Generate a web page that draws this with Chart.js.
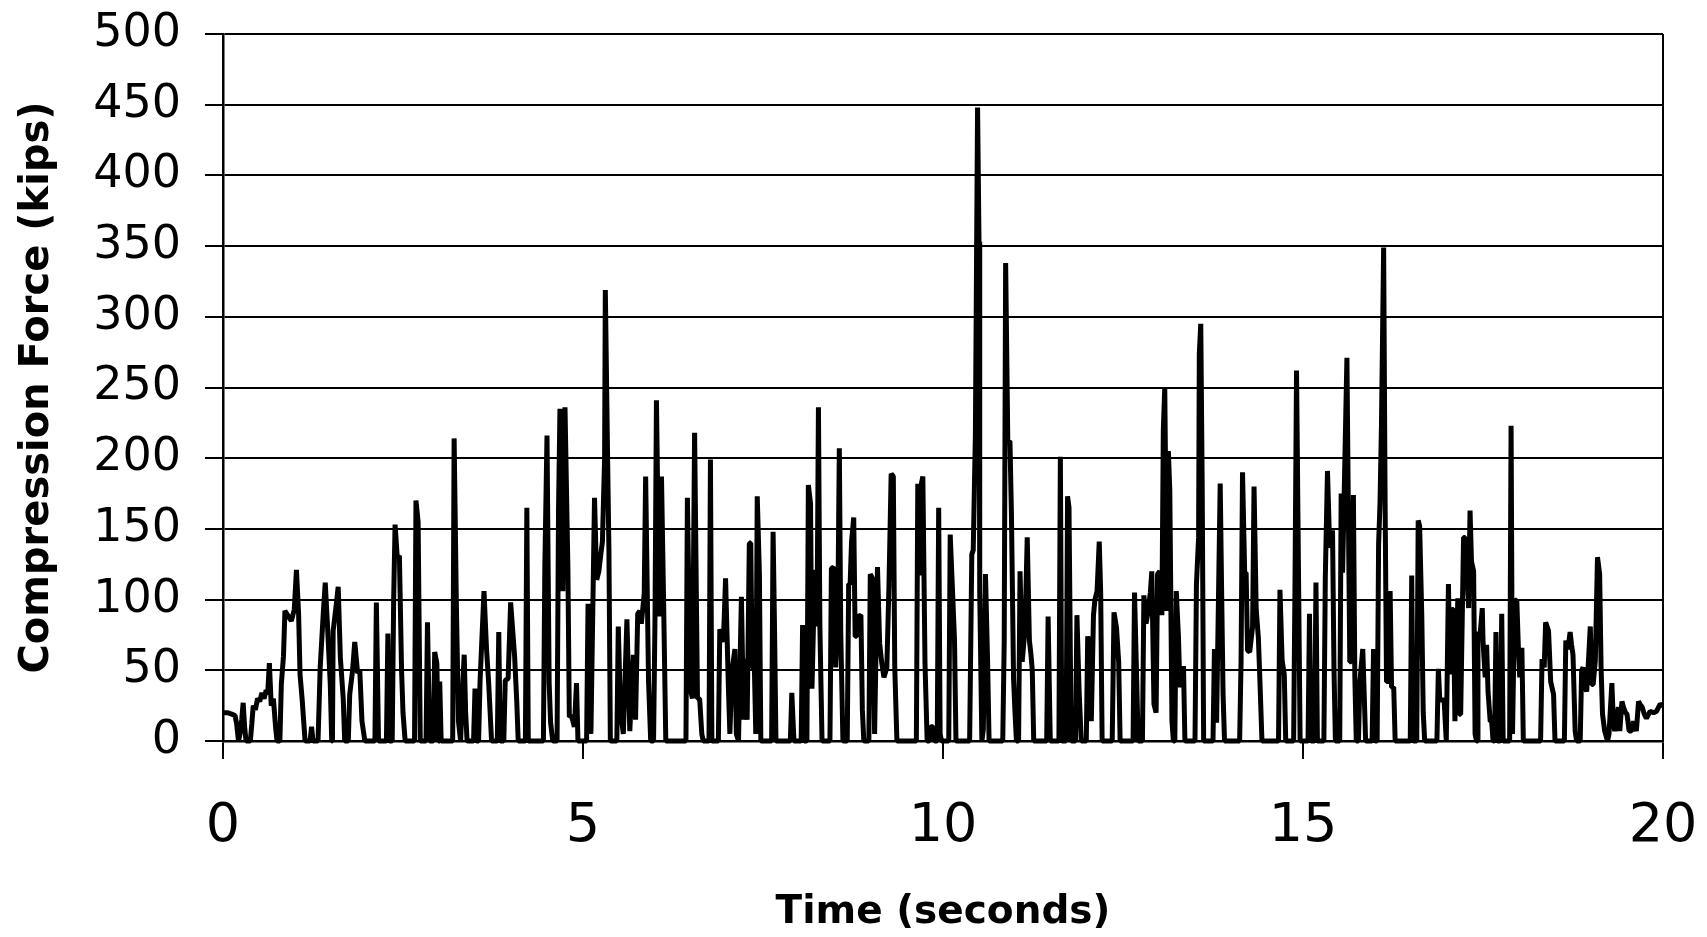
<!DOCTYPE html>
<html>
<head>
<meta charset="utf-8">
<script src="https://cdn.jsdelivr.net/npm/chart.js@4.4.1/dist/chart.umd.min.js"></script>
<style>
html,body{margin:0;padding:0;background:#fff;}
#wrap{width:1707px;height:937px;}
</style>
</head>
<body>
<div id="wrap"><canvas id="c" width="1707" height="937"></canvas></div>
<script>
// Readings [time (s), compression force (kips)]
const sec0to5 = [
[0,20],[0.06,20],[0.12,19],[0.167,18],[0.19,12],[0.215,0],[0.236,5],[0.26,15],[0.28,27],[0.30,10],[0.32,0],[0.38,0],[0.40,12],[0.42,25],[0.45,22],[0.48,30],[0.51,28],[0.54,34],[0.57,30],[0.60,36],[0.62,33],[0.644,55],[0.67,25],[0.70,30],[0.73,10],[0.75,0],[0.79,0],[0.81,40],[0.84,60],[0.86,92],[0.91,88],[0.95,85],[0.99,93],[1.02,121],[1.05,90],[1.07,47],[1.10,29],[1.14,0],[1.21,0],[1.23,10],[1.25,0],[1.32,0],[1.35,52],[1.39,88],[1.42,112],[1.45,83],[1.49,40],[1.51,0],[1.52,0],[1.53,78],[1.57,95],[1.60,109],[1.63,59],[1.67,30],[1.69,0],[1.74,0],[1.76,33],[1.80,50],[1.83,70],[1.87,48],[1.90,50],[1.93,14],[1.97,0],[2.11,0],[2.13,98],[2.16,0],[2.27,0],[2.29,76],[2.31,0],[2.35,0],[2.37,99],[2.39,153],[2.42,130],[2.45,131],[2.48,50],[2.50,20],[2.53,0],[2.66,0],[2.68,170],[2.71,155],[2.74,0],[2.82,0],[2.84,84],[2.87,0],[2.92,0],[2.94,63],[2.97,55],[2.99,0],[3.00,0],[3.01,42],[3.03,0],[3.19,0],[3.21,214],[3.24,101],[3.27,14],[3.30,0],[3.33,40],[3.35,61],[3.37,20],[3.39,0],
[3.48,0],[3.50,37],[3.52,0],[3.55,0],[3.57,42],[3.625,106],[3.66,65],[3.69,41],[3.73,0],[3.81,0],[3.83,77],[3.85,0],[3.90,0],[3.92,43],[3.96,44],[3.995,98],[4.05,60],[4.08,28],[4.10,0],[4.20,0],[4.22,165],[4.24,0],[4.45,0],[4.47,123],[4.50,216],[4.53,41],[4.55,13],[4.58,0],[4.64,0],[4.66,163],[4.68,235],[4.72,106],[4.75,236],[4.79,123],[4.81,17],[4.84,18],[4.88,10],[4.91,41],[4.93,0]
];
const sec5to10 = [
[5.05,0],[5.07,97],[5.11,5],[5.16,172],[5.19,114],[5.22,120],[5.25,133],[5.27,141],[5.30,200],[5.31,319],[5.34,206],[5.36,135],[5.38,0],
[5.47,0],[5.49,81],[5.52,22],[5.56,5],[5.61,86],[5.65,7],[5.70,61],[5.73,15],[5.76,90],[5.79,92],[5.81,83],[5.85,104],[5.87,187],[5.91,43],[5.94,0],
[5.98,0],[6.00,88],[6.02,241],[6.06,88],[6.09,187],[6.12,97],[6.15,0],
[6.43,0],[6.45,172],[6.49,37],[6.52,30],[6.55,218],[6.59,30],[6.62,30],[6.65,5],[6.67,0],
[6.75,0],[6.77,199],[6.79,0],
[6.88,0],[6.90,79],[6.95,70],[6.98,115],[7.02,37],[7.04,5],[7.07,50],[7.11,65],[7.13,5],[7.16,0],[7.20,102],[7.23,15],[7.25,58],[7.28,15],[7.31,140],[7.33,140],[7.35,52],[7.38,52],[7.40,5],[7.42,173],[7.45,118],[7.47,0],
[7.62,0],[7.64,148],[7.66,80],[7.68,0],[7.88,0],[7.90,34],[7.93,0],
[8.03,0],[8.05,82],[8.07,0],[8.11,0],[8.13,181],[8.16,168],[8.18,37],[8.22,121],[8.25,81],[8.27,236],[8.29,81],[8.32,0],
[8.43,0],[8.45,122],[8.48,123],[8.51,52],[8.54,95],[8.56,207],[8.58,76],[8.61,0],
[8.67,0],[8.69,111],[8.71,111],[8.73,141],[8.76,158],[8.78,74],[8.80,74],[8.82,88],[8.86,89],[8.88,22],[8.90,0],
[8.97,0],[8.99,118],[9.02,115],[9.05,5],[9.09,123],[9.12,69],[9.15,55],[9.18,45],[9.22,52],[9.25,111],[9.28,189],[9.31,187],[9.33,52],[9.36,0],
[9.63,0],[9.65,182],[9.68,117],[9.70,182],[9.72,187],[9.75,55],[9.78,0],
[9.81,0],[9.83,10],[9.86,10],[9.88,0],[9.92,0],[9.94,165],[9.96,5],[9.98,0]
];
const sec10to15 = [
[10.08,0],[10.10,146],[10.13,109],[10.16,71],[10.18,0],
[10.37,0],[10.40,132],[10.42,135],[10.45,217],[10.48,448],[10.50,353],[10.51,105],[10.54,0],[10.56,8],[10.59,118],[10.62,55],[10.64,0],
[10.83,0],[10.85,70],[10.87,338],[10.90,212],[10.93,212],[10.95,162],[10.98,44],[11.00,20],[11.02,0],
[11.05,0],[11.07,120],[11.10,56],[11.14,80],[11.17,144],[11.20,71],[11.22,62],[11.24,50],[11.26,0],
[11.44,0],[11.46,88],[11.49,0],[11.61,0],[11.63,201],[11.65,0],[11.71,0],[11.73,173],[11.75,165],[11.78,0],
[11.84,0],[11.86,89],[11.89,36],[11.92,0],
[11.99,0],[12.01,74],[12.04,65],[12.06,14],[12.09,89],[12.11,100],[12.14,106],[12.17,141],[12.19,105],[12.21,0],
[12.35,0],[12.375,91],[12.41,80],[12.44,56],[12.46,0],[12.64,0],[12.66,105],[12.69,44],[12.71,0],
[12.77,0],[12.79,103],[12.82,83],[12.84,89],[12.88,105],[12.90,120],[12.93,26],[12.96,20],[12.98,118],[13.01,120],[13.04,89],[13.06,220],[13.08,250],[13.11,92],[13.13,205],[13.15,177],[13.18,14],[13.20,0],
[13.22,0],[13.24,106],[13.27,74],[13.29,38],[13.32,45],[13.34,53],[13.36,0],
[13.50,0],[13.52,111],[13.55,144],[13.56,274],[13.58,295],[13.60,180],[13.62,0],
[13.75,0],[13.77,65],[13.80,13],[13.85,182],[13.87,105],[13.89,33],[13.91,0],
[14.12,0],[14.14,57],[14.16,190],[14.19,119],[14.21,119],[14.23,64],[14.26,63],[14.30,81],[14.32,180],[14.35,93],[14.38,73],[14.40,45],[14.43,0],
[14.66,0],[14.68,107],[14.71,57],[14.74,47],[14.76,0],[14.87,0],[14.89,119],[14.91,262],[14.94,105],[14.96,0]
];
const sec15to20 = [
[15.07,0],[15.09,90],[15.11,0],[15.16,0],[15.18,112],[15.20,0],
[15.29,0],[15.31,116],[15.34,191],[15.37,138],[15.39,138],[15.41,149],[15.43,52],[15.45,0],
[15.51,0],[15.53,175],[15.55,119],[15.57,169],[15.61,271],[15.63,162],[15.65,56],[15.67,56],[15.70,174],[15.72,45],[15.74,0],
[15.77,0],[15.79,42],[15.83,65],[15.85,33],[15.87,0],[15.96,0],[15.98,65],[16.00,0],
[16.03,0],[16.05,139],[16.07,169],[16.09,224],[16.12,349],[16.14,171],[16.16,42],[16.19,42],[16.21,106],[16.23,38],[16.26,38],[16.28,0],
[16.49,0],[16.51,117],[16.53,0],[16.58,0],[16.60,156],[16.62,152],[16.65,88],[16.67,20],[16.69,0],
[16.86,0],[16.88,51],[16.90,29],[16.96,29],[16.99,0],[17.02,111],[17.04,47],[17.07,93],[17.09,93],[17.11,14],[17.15,101],[17.17,19],[17.19,19],[17.23,144],[17.25,144],[17.27,127],[17.30,94],[17.32,163],[17.34,127],[17.37,120],[17.39,5],[17.41,0],
[17.42,0],[17.43,77],[17.46,75],[17.49,94],[17.50,71],[17.53,45],[17.55,68],[17.57,35],[17.60,14],[17.62,14],[17.64,0],
[17.66,0],[17.68,77],[17.70,0],[17.74,0],[17.76,90],[17.78,0],
[17.87,0],[17.89,223],[17.91,5],[17.94,100],[17.97,99],[17.99,68],[18.01,45],[18.04,66],[18.06,0],
[18.30,0],[18.32,58],[18.35,52],[18.37,84],[18.41,78],[18.44,42],[18.48,33],[18.50,0],
[18.63,0],[18.65,71],[18.68,65],[18.71,77],[18.73,68],[18.75,61],[18.78,7],[18.80,0],
[18.85,0],[18.87,50],[18.89,52],[18.92,38],[18.94,35],[18.96,52],[18.99,81],[19.01,40],[19.03,40],[19.06,57],[19.09,130],[19.12,118],[19.14,52],[19.16,19],[19.19,7],[19.23,0],
[19.25,5],[19.29,41],[19.31,14],[19.33,7],[19.35,14],[19.38,24],[19.40,7],[19.43,28],[19.45,24],[19.48,20],[19.50,19],[19.53,7],[19.56,7],[19.59,14],[19.63,7],[19.66,28],[19.68,26],[19.71,24],[19.74,19],[19.77,16],[19.82,21],[19.87,20],[19.91,21],[19.96,26],[20.00,25]
];
const xTickValues = [0, 5, 10, 15, 20];
const yTickStep = 50;

const points = [].concat(sec0to5, sec5to10, sec10to15, sec15to20).map(p => ({x: p[0], y: p[1]}));

const PAD = {left: 0, right: 44, top: 34, bottom: 0};
const FONT = 'DejaVu Sans';

new Chart(document.getElementById('c'), {
  type: 'line',
  data: {
    datasets: [{
      data: points,
      borderColor: '#000',
      borderWidth: 5,
      borderJoinStyle: 'bevel',
      pointRadius: 0,
      tension: 0,
      fill: false,
      clip: 5
    }]
  },
  options: {
    responsive: false,
    animation: false,
    devicePixelRatio: 1,
    layout: {padding: PAD},
    plugins: {legend: {display: false}, tooltip: {enabled: false}},
    scales: {
      x: {
        type: 'linear',
        min: 0, max: 20,
        afterBuildTicks: s => { s.ticks = xTickValues.map(v => ({value: v})); },
        afterFit: s => { s.height = 937 - PAD.bottom - 741; s.paddingLeft = 0; s.paddingRight = 0; },
        ticks: {color: '#000', font: {family: FONT, size: 54}, padding: 36, maxRotation: 0},
        grid: {
          color: c => (c.tick && c.tick.value === 20) ? '#000' : 'rgba(0,0,0,0)',
          lineWidth: 2,
          tickColor: '#000',
          tickLength: 18,
          tickWidth: 2
        },
        border: {display: true, color: '#000', width: 2.5},
        title: {display: true, text: 'Time (seconds)', color: '#000',
                font: {family: FONT, size: 39, weight: 'bold'}, padding: {top: 0, bottom: 1}}
      },
      y: {
        min: 0, max: 500,
        afterFit: s => { s.width = 223 - PAD.left; s.paddingTop = 0; s.paddingBottom = 0; },
        ticks: {stepSize: yTickStep, color: '#000', font: {family: FONT, size: 46}, padding: 24},
        grid: {color: '#000', lineWidth: 2, tickColor: '#000', tickLength: 18, tickWidth: 2},
        border: {display: true, color: '#000', width: 2.5},
        title: {display: true, text: 'Compression Force (kips)', color: '#000',
                font: {family: FONT, size: 40, weight: 'bold'}, padding: {top: 14, bottom: 0}}
      }
    }
  }
});
</script>
</body>
</html>
